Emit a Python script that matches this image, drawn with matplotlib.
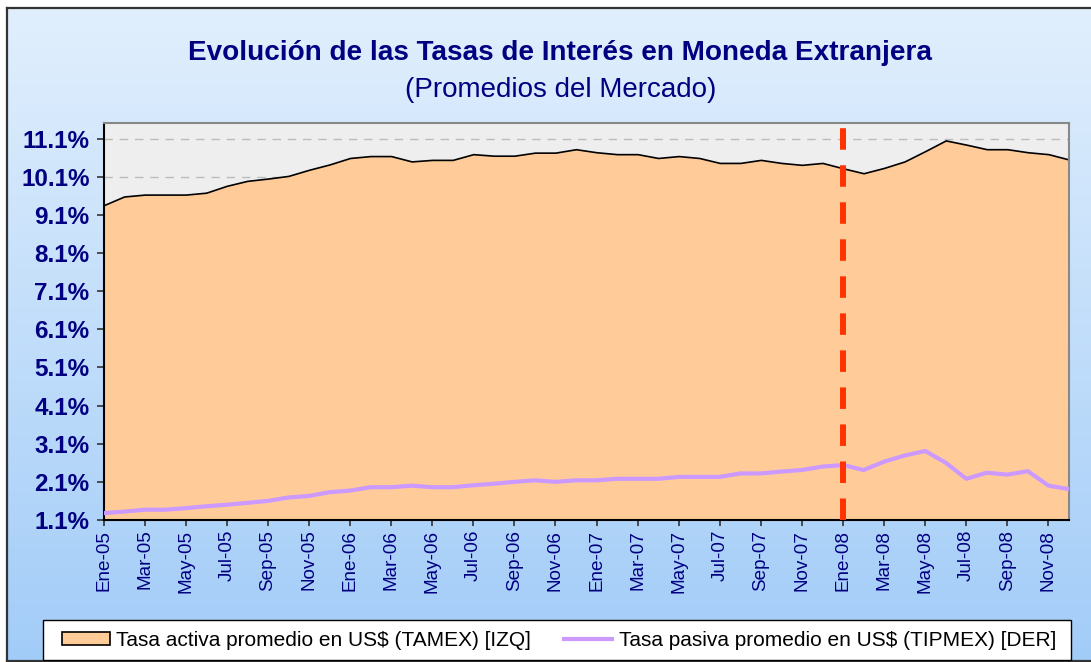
import numpy as np
import matplotlib
matplotlib.use('Agg')
import matplotlib.pyplot as plt
from matplotlib.patches import Patch, Rectangle
from matplotlib.lines import Line2D

plt.rcParams['font.family'] = ['Liberation Sans', 'DejaVu Sans']

# datos (% mensual, ene-05 a dic-08)
meses = ['Ene', 'Feb', 'Mar', 'Abr', 'May', 'Jun', 'Jul', 'Ago', 'Sep', 'Oct', 'Nov', 'Dic']
anios = ['05', '06', '07', '08']
fechas = [m + '-' + a for a in anios for m in meses]

tamex = [9.35, 9.58, 9.63, 9.63, 9.63, 9.68, 9.86, 9.99, 10.05, 10.12, 10.28, 10.42,
         10.59, 10.64, 10.64, 10.50, 10.54, 10.54, 10.69, 10.65, 10.65, 10.73, 10.73, 10.82,
         10.74, 10.69, 10.69, 10.59, 10.64, 10.59, 10.46, 10.46, 10.54, 10.46, 10.41, 10.46,
         10.32, 10.19, 10.33, 10.50, 10.77, 11.05, 10.94, 10.82, 10.82, 10.74, 10.69, 10.55]
tipmex = [1.28, 1.32, 1.37, 1.37, 1.41, 1.46, 1.50, 1.55, 1.60, 1.69, 1.73, 1.83,
          1.87, 1.96, 1.96, 2.00, 1.96, 1.96, 2.01, 2.05, 2.10, 2.14, 2.10, 2.14,
          2.14, 2.18, 2.18, 2.18, 2.23, 2.23, 2.23, 2.32, 2.32, 2.37, 2.41, 2.50,
          2.54, 2.41, 2.63, 2.79, 2.91, 2.60, 2.18, 2.34, 2.29, 2.38, 2.00, 1.91]
corte = 'Ene-08'

ymin, ymax = 1.1, 11.52
navy = '#000080'
W, H = 1091, 662

fig = plt.figure(figsize=(W / 100, H / 100), dpi=100, facecolor='white')

# fondo con degradado y marco
bg = fig.add_axes([7 / W, 1 - 660.5 / H, 1.2, (660.5 - 8) / H], zorder=0)
grad = np.linspace(0, 1, 256).reshape(-1, 1)
cmap = matplotlib.colors.LinearSegmentedColormap.from_list('fondo', ['#E1EFFD', '#A2CCF8'])
bg.imshow(grad, aspect='auto', cmap=cmap, extent=[0, 1, 0, 1], origin='upper')
bg.set_xticks([])
bg.set_yticks([])
for s in bg.spines.values():
    s.set_color('#333333')
    s.set_linewidth(1.6)

# area del grafico
ax = fig.add_axes([103.5 / W, 1 - 520 / H, (1069 - 103.5) / W, (520 - 122.5) / H], zorder=1)
ax.set_facecolor('#EEEEEE')
x = np.arange(len(fechas))

ax.fill_between(x, ymin, tamex, facecolor='#FFCC99', edgecolor='black', linewidth=1.2, zorder=2)
ax.plot(x, tipmex, color='#CC99FF', linewidth=3, solid_joinstyle='round', zorder=3)
xc = fechas.index(corte)
ax.plot([xc, xc], [ymin, ymax], color='#FF3300', linewidth=4.3, dashes=(3.6, 2.6),
        solid_capstyle='butt', dash_capstyle='butt', zorder=4)

ax.set_xlim(0, len(fechas) - 1)
ax.set_ylim(ymin, ymax)

yt = np.arange(1.1, 11.2, 1.0)
ax.set_yticks(yt)
ax.set_yticklabels([f'{v:.1f}%' for v in yt], fontsize=17.5, fontweight='bold', color=navy)
ax.yaxis.grid(True, color='#BBBBBB', linestyle=(0, (6, 5)), linewidth=1, zorder=0)
ax.set_axisbelow(True)

xt = x[::2]
ax.set_xticks(xt)
ax.set_xticklabels([fechas[i] for i in xt], rotation=90, fontsize=13.6, color=navy)
ax.tick_params(axis='y', length=5, width=1.2, pad=5, color='#333333')
ax.tick_params(axis='x', length=4, width=1.2, pad=3, color='#333333')

ax.spines['left'].set_color('black')
ax.spines['bottom'].set_color('black')
ax.spines['left'].set_linewidth(1.5)
ax.spines['bottom'].set_linewidth(1.5)
ax.spines['top'].set_color('#888888')
ax.spines['right'].set_color('#888888')
ax.spines['top'].set_linewidth(1.5)
ax.spines['right'].set_linewidth(1.5)

# titulos
fig.text(560.5 / W, 1 - 60 / H, 'Evolución de las Tasas de Interés en Moneda Extranjera',
         ha='center', va='baseline', fontsize=20.1, fontweight='bold', color=navy)
fig.text(561 / W, 1 - 96.7 / H, '(Promedios del Mercado)',
         ha='center', va='baseline', fontsize=20, color=navy)

# leyenda (marco dibujado aparte)
caja = Rectangle((42.7 / W, 1 - 660 / H), (1071 - 42.7) / W, 40 / H, transform=fig.transFigure,
                 facecolor='white', edgecolor='black', linewidth=1.0, zorder=4)
fig.patches.append(caja)
handles = [Patch(facecolor='#FFCC99', edgecolor='black', linewidth=1.2),
           Line2D([0], [0], color='#CC99FF', linewidth=3)]
labels = ['Tasa activa promedio en US$ (TAMEX) [IZQ]',
          'Tasa pasiva promedio en US$ (TIPMEX) [DER]']
leg = fig.legend(handles, labels, loc='center', bbox_to_anchor=(559 / W, 1 - 640 / H),
                 ncol=2, fontsize=15, frameon=False, handlelength=2.3,
                 handleheight=0.6, handletextpad=0.3, columnspacing=1.6, borderpad=0.4)
leg.set_zorder(5)

fig.savefig('out.png', dpi=100)
